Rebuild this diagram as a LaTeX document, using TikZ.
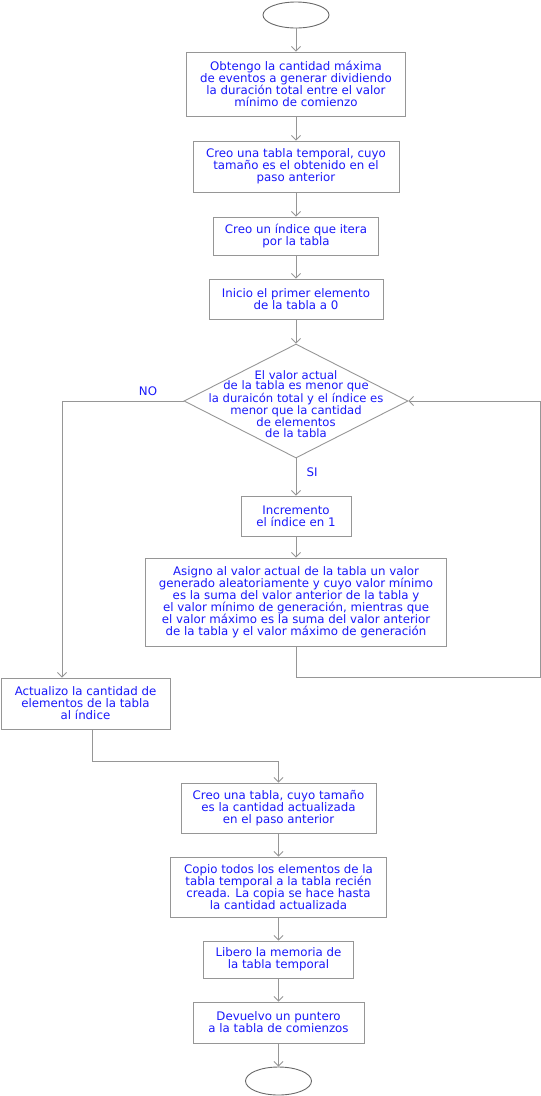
\documentclass[tikz,border=0pt]{standalone}
\usepackage{fontspec}
\setmainfont{DejaVu Sans}
\usetikzlibrary{shapes.geometric,arrows.meta}
\definecolor{txtblue}{RGB}{25,25,250}
\definecolor{linegray}{RGB}{150,150,150}
\tikzset{
  x=1pt,y=-1pt,
  box/.style={draw=linegray,line width=0.9pt,rectangle,inner sep=0pt,align=center,text=txtblue,
    font=\fontsize{11.8}{12}\selectfont},
  term/.style={draw=linegray!70!black,line width=0.9pt,ellipse,inner sep=0pt},
  dia/.style={draw=linegray,line width=0.9pt,diamond,inner sep=0pt},
  txt/.style={align=center,text=txtblue,inner sep=0pt,font=\fontsize{11.6}{10.6}\selectfont},
  lbl/.style={text=txtblue,inner sep=0pt,font=\fontsize{11.8}{12}\selectfont},
  conn/.style={draw=linegray,line width=0.9pt},
  arr/.style={conn,-{Straight Barb[length=4.5pt,width=9pt,line width=0.9pt]}}
}
\begin{document}
\begin{tikzpicture}
\useasboundingbox (0,0) rectangle (541,1096);
\node[term,minimum width=66,minimum height=26] (start) at (296,15) {};
\node[box,minimum width=219,minimum height=64] (b1) at (296,84) {Obtengo la cantidad máxima\\ de eventos a generar dividiendo\\ la duración total entre el valor\\ mínimo de comienzo};
\node[box,minimum width=206,minimum height=51] (b2) at (296,166.5) {Creo una tabla temporal, cuyo\\ tamaño es el obtenido en el\\ paso anterior};
\node[box,minimum width=165,minimum height=38] (b3) at (296,236) {Creo un índice que itera\\ por la tabla};
\node[box,minimum width=174,minimum height=40] (b4) at (296,299) {Inicio el primer elemento\\ de la tabla a 0};
\node[dia,minimum width=224,minimum height=114] (d) at (296,401) {};
\node[txt] (dtext) at (296,404) {El valor actual\\ de la tabla es menor que\\ la duraicón total y el índice es\\ menor que la cantidad\\ de elementos\\ de la tabla};
\node[box,minimum width=110,minimum height=40] (b5) at (296,516) {Incremento\\ el índice en 1};
\node[box,minimum width=301,minimum height=88] (b6) at (296,602) {Asigno al valor actual de la tabla un valor\\ generado aleatoriamente y cuyo valor mínimo\\ es la suma del valor anterior de la tabla y\\ el valor mínimo de generación, mientras que\\ el valor máximo es la suma del valor anterior\\ de la tabla y el valor máximo de generación};
\node[box,minimum width=169,minimum height=51] (b7) at (85.5,703.5) {Actualizo la cantidad de\\ elementos de la tabla\\ al índice};
\node[box,minimum width=195,minimum height=50] (b8) at (278.5,808) {Creo una tabla, cuyo tamaño\\ es la cantidad actualizada\\ en el paso anterior};
\node[box,minimum width=216,minimum height=60] (b9) at (278.5,887) {Copio todos los elementos de la\\ tabla temporal a la tabla recién\\ creada. La copia se hace hasta\\ la cantidad actualizada};
\node[box,minimum width=150,minimum height=37] (b10) at (278.5,959.5) {Libero la memoria de\\ la tabla temporal};
\node[box,minimum width=171,minimum height=41] (b11) at (278.5,1022.5) {Devuelvo un puntero\\ a la tabla de comienzos};
\node[term,minimum width=66,minimum height=28] (end) at (278.5,1081) {};
\node[lbl] (no) at (148,391) {NO};
\node[lbl] (si) at (312,472) {SI};
\coordinate (nl) at (62,401);
\coordinate (rl) at (540,677);
\coordinate (ml) at (92,761);
\draw[arr] (start) -- (b1);
\draw[arr] (b1) -- (b2);
\draw[arr] (b2) -- (b3);
\draw[arr] (b3) -- (b4);
\draw[arr] (b4) -- (d);
\draw[arr] (d) -- (b5);
\draw[arr] (b5) -- (b6);
\draw[arr] (d.west) -- (nl) -- (nl |- b7.north);
\draw[arr] (b6.south) |- (rl) |- (d.east);
\draw[arr] (ml |- b7.south) -- (ml) -| (b8.north);
\draw[arr] (b8) -- (b9);
\draw[arr] (b9) -- (b10);
\draw[arr] (b10) -- (b11);
\draw[arr] (b11) -- (end);
\end{tikzpicture}
\end{document}
